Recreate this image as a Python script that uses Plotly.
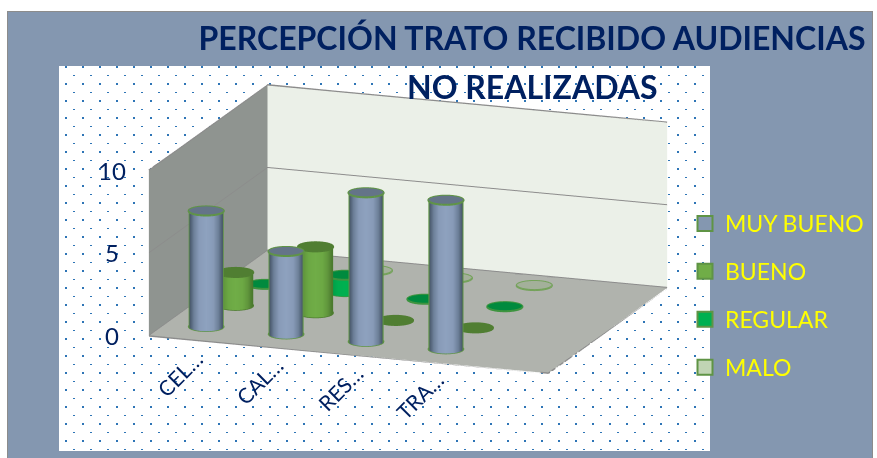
import base64
import numpy as np
import plotly.graph_objects as go

# ---- data ----
categories = ["CEL…", "CAL…", "RES…", "TRA…", ""]
series_names = ["MUY BUENO", "BUENO", "REGULAR", "MALO"]
muy_bueno = [7, 5, 9, 9, 0]
bueno = [2, 4, 0, 0, 0]
regular = [0, 1, 0, 0, 0]
malo = [0, 0, 0, 0, 0]
z_ticks = [0, 5, 10]
title_line_1 = "PERCEPCIÓN TRATO RECIBIDO AUDIENCIAS"
title_line_2 = "NO REALIZADAS"

# ---- style ----
NAVY = "#002060"
SLATE = "#8497b0"
GREEN_EDGE = "#5f9445"
EDGE_GREY = "#8c8c8c"
styles = [
    dict(values=muy_bueno, scale=[[0, GREEN_EDGE], [0.05, GREEN_EDGE], [0.06, "#465568"], [0.3, "#6d8099"], [0.6, "#889bb8"], [1, "#8ea2bf"]],
         top="#647488", ring=GREEN_EDGE, legend="#8497b0"),
    dict(values=bueno, scale=[[0, "#4a7a2e"], [0.05, "#4a7a2e"], [0.06, "#4a7a2e"], [0.3, "#60953c"], [0.6, "#6ca844"], [1, "#70ad47"]],
         top="#507e32", ring="#507e32", legend="#70ad47"),
    dict(values=regular, scale=[[0, "#2f8f45"], [0.05, "#2f8f45"], [0.06, "#00873c"], [0.3, "#00a049"], [0.6, "#00ae4f"], [1, "#00b050"]],
         top="#008a3e", ring="#3f9440", legend="#00b050"),
    dict(values=malo, scale=[[0, "#7fa868"], [1, "#c5d7b5"]],
         top="#a3b09a", ring="#74a25a", legend="#c0d4b4"),
]

x_range = [-0.5, 4.5]
y_range = [-0.59, 3.44]
z_range = [-0.03, 10]
R_X, R_Y = 0.207, 0.202
az = np.radians(19.8)
el = np.radians(15)
eye = dict(x=float(np.sin(az) * np.cos(el)),
           y=float(-np.cos(az) * np.cos(el)),
           z=float(np.sin(el)))
ZOOM = 1.53

theta = np.linspace(0, 2 * np.pi, 121)
fig = go.Figure()
flat = dict(ambient=1, diffuse=0, specular=0, fresnel=0, roughness=1)

for j, st in enumerate(styles):
    for i, v in enumerate(st["values"]):
        if categories[i] == "":
            continue
        cx = R_X * np.cos(theta) + i
        cy = R_Y * np.sin(theta) + j
        if v > 0:
            X = np.array([cx, cx])
            Y = np.array([cy, cy])
            Z = np.array([np.zeros_like(theta), np.full_like(theta, v)])
            facing = np.cos(theta) * np.sin(az) - np.sin(theta) * np.cos(az)
            offset = np.sqrt(np.clip(1 - facing ** 2, 0, 1))
            shade = np.where(facing > 0, 1 - offset, 0)
            S = np.array([shade, shade])
            fig.add_trace(go.Surface(x=X, y=Y, z=Z, surfacecolor=S, cmin=0, cmax=1,
                                     colorscale=st["scale"], showscale=False, lighting=flat, hoverinfo="skip"))
        Xc = np.array([np.full_like(theta, float(i)), cx])
        Yc = np.array([np.full_like(theta, float(j)), cy])
        Zc = np.full_like(Xc, float(v))
        fig.add_trace(go.Surface(x=Xc, y=Yc, z=Zc, surfacecolor=np.zeros_like(Xc), cmin=0, cmax=1,
                                 colorscale=[[0, st["top"]], [1, st["top"]]], showscale=False, lighting=flat, hoverinfo="skip"))
        fig.add_trace(go.Scatter3d(x=cx, y=cy, z=np.full_like(theta, float(v)), mode="lines",
                                   line=dict(color=st["ring"], width=4), showlegend=False, hoverinfo="skip"))
        if v > 0:
            fig.add_trace(go.Scatter3d(x=cx, y=cy, z=np.zeros_like(theta), mode="lines",
                                       line=dict(color=st["ring"], width=3), showlegend=False, hoverinfo="skip"))

# wall and floor edges, taken from the axis ranges
x0, x1 = x_range
y0, y1 = y_range
z0, z1 = z_range
edge_paths = [
    ([x0, x1, x1], [y0, y0, y1], [z0, z0, z0]),  # floor front and right
    ([x0, x1], [y1, y1], [z0, z0]),              # floor back
    ([x0, x0, x1], [y0, y1, y1], [z1, z1, z1]),  # wall tops
]
for ex, ey, ez in edge_paths:
    fig.add_trace(go.Scatter3d(x=ex, y=ey, z=ez, mode="lines", line=dict(color=EDGE_GREY, width=3),
                               showlegend=False, hoverinfo="skip"))

# legend entries
for name, st in zip(series_names, styles):
    fig.add_trace(go.Scatter3d(x=[None], y=[None], z=[None], mode="markers", name=name, legendgroup=name,
                               marker=dict(symbol="square", size=15, color=st["legend"], line=dict(color=GREEN_EDGE, width=2))))

W, H = 877, 458
# page backdrop: white margin, slate card, white dotted panel
svg = (f'<svg xmlns="http://www.w3.org/2000/svg" width="{W}" height="{H}" viewBox="0 0 {W} {H}" shape-rendering="crispEdges">'
       '<defs><pattern id="p" x="59" y="66" width="17" height="17" patternUnits="userSpaceOnUse">'
       '<rect x="6" y="0" width="2" height="2" fill="#2e75b6"/><rect x="14" y="9" width="2" height="1" fill="#2e75b6"/>'
       '</pattern></defs>'
       f'<rect width="{W}" height="{H}" fill="#ffffff"/>'
       f'<rect x="7.5" y="11.5" width="865" height="{H}" fill="{SLATE}" stroke="#8c8c8c"/>'
       '<rect x="59" y="66" width="651" height="385" fill="#ffffff"/>'
       '<rect x="59" y="66" width="651" height="385" fill="url(#p)"/></svg>')
uri = "data:image/svg+xml;base64," + base64.b64encode(svg.encode()).decode()

def px(x): return x / W
def py(y): return 1 - y / H

scene_annotations = []
for i, c in enumerate(categories):
    if c:
        scene_annotations.append(dict(x=i, y=y_range[0], z=0, text=c, textangle=-45, showarrow=False,
                                      xshift=-9, yshift=-34, font=dict(family="Lato", size=21, color=NAVY)))
for t in z_ticks:
    scene_annotations.append(dict(x=x_range[0], y=y_range[0], z=t, text=str(t), showarrow=False,
                                  xshift=-37, yshift=0, font=dict(family="Lato", size=24, color=NAVY)))

hidden = dict(showticklabels=False, title=dict(text=""), ticks="", zeroline=False, showspikes=False,
              showline=False, showgrid=False, showbackground=True)

fig.update_layout(
    width=W, height=H, autosize=False,
    margin=dict(l=0, r=0, t=0, b=0, autoexpand=False),
    paper_bgcolor="white",
    showlegend=True,
    font=dict(family="Lato"),
    title=dict(text=title_line_1, x=532 / W, xanchor="center", y=py(39), yanchor="middle",
               font=dict(family="Lato", size=32, color=NAVY, weight="bold")),
    annotations=[dict(text=title_line_2, xref="paper", yref="paper", x=532 / W, y=py(86), xanchor="center",
                      yanchor="middle", showarrow=False, font=dict(family="Lato", size=32, color=NAVY, weight="bold"))],
    legend=dict(x=px(685), y=py(202), xanchor="left", yanchor="top", bgcolor="rgba(0,0,0,0)",
                font=dict(family="Lato", size=23, color="#ffff00"), tracegroupgap=15, itemsizing="trace"),
    images=[dict(source=uri, xref="paper", yref="paper", x=0, y=1, sizex=1, sizey=1,
                 xanchor="left", yanchor="top", sizing="stretch", layer="below")],
    scene=dict(
        domain=dict(x=[0, 816 / W], y=[0, 1]),
        aspectmode="manual",
        aspectratio=dict(x=423 / 349 * ZOOM, y=1.0 * ZOOM, z=171 / 349 * ZOOM),
        camera=dict(eye=eye, up=dict(x=0, y=0, z=1), center=dict(x=0, y=0, z=0),
                    projection=dict(type="orthographic")),
        bgcolor="rgba(0,0,0,0)",
        xaxis=dict(range=x_range, backgroundcolor="#8f9490", **hidden),
        yaxis=dict(range=y_range, backgroundcolor="#ebf0e8", **hidden),
        zaxis={**hidden, "range": z_range, "backgroundcolor": "#b0b3ad", "showgrid": True,
               "gridcolor": "#8c8c8c", "gridwidth": 2, "dtick": 5, "tick0": 0},
        annotations=scene_annotations,
    ),
)

fig.write_html("out.html", config={"displayModeBar": False},
               post_script="document.body.style.margin='0';document.body.style.overflow='hidden';")
